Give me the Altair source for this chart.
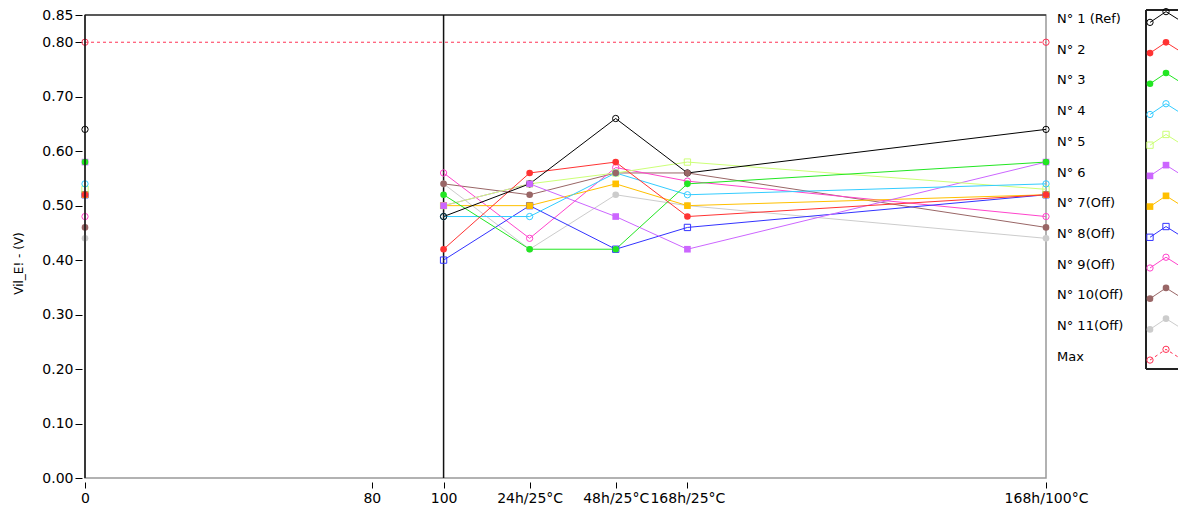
import altair as alt
import pandas as pd

# ---------------- data ----------------
x_points = [0, 100, 124, 148, 168, 268]
tick_values = [0, 80, 100, 124, 148, 168, 268]
tick_labels = ["0", "80", "100", "24h/25°C", "48h/25°C", "168h/25°C", "168h/100°C"]
y_ticks = [0.0, 0.1, 0.2, 0.3, 0.4, 0.5, 0.6, 0.7, 0.8, 0.85]

series_names = ["N° 1 (Ref)", "N° 2", "N° 3", "N° 4", "N° 5", "N° 6",
                "N° 7(Off)", "N° 8(Off)", "N° 9(Off)", "N° 10(Off)", "N° 11(Off)"]
n1 = [0.64, 0.48, 0.54, 0.66, 0.56, 0.64]
n2 = [0.52, 0.42, 0.56, 0.58, 0.48, 0.52]
n3 = [0.58, 0.52, 0.42, 0.42, 0.54, 0.58]
n4 = [0.54, 0.48, 0.48, 0.56, 0.52, 0.54]
n5 = [0.53, 0.50, 0.54, 0.56, 0.58, 0.53]
n6 = [0.58, 0.50, 0.54, 0.48, 0.42, 0.58]
n7 = [0.52, 0.50, 0.50, 0.54, 0.50, 0.52]
n8 = [0.52, 0.40, 0.50, 0.42, 0.46, 0.52]
n9 = [0.48, 0.56, 0.44, 0.57, 0.545, 0.48]
n10 = [0.46, 0.54, 0.52, 0.56, 0.56, 0.46]
n11 = [0.44, 0.54, 0.42, 0.52, 0.50, 0.44]
series_values = [n1, n2, n3, n4, n5, n6, n7, n8, n9, n10, n11]

max_name = "Max"
max_x = [0, 268]
max_value = [0.80, 0.80]
cursor_x = [100]

# ---------------- styles ----------------
colors = ["#000000", "#FF3333", "#22E622", "#33CCFF", "#CCFF77", "#CC66FF",
          "#FFC000", "#3333FF", "#FF44CC", "#996666", "#CCCCCC"]
max_color = "#FF3355"
shapes = ["circle", "circle", "circle", "circle", "square", "square",
          "square", "square", "circle", "circle", "circle"]
filled = [False, True, True, False, False, True, True, False, False, True, True]

W, H = 961, 463
FONT = "DejaVu Sans"

all_names = series_names + [max_name]
all_colors = colors + [max_color]
all_shapes = shapes + ["circle"]
all_filled = filled + [False]

# rows in reverse order so that N° 1 is drawn last (on top), as in the reference
rows = []
for name, vals, f in reversed(list(zip(series_names, series_values, filled))):
    for x, v in zip(x_points, vals):
        rows.append(dict(series=name, x=x, v=v, seg="start" if x == 0 else "run", filled=f))
main_df = pd.DataFrame(rows)
max_df = pd.DataFrame(dict(series=max_name, x=max_x, v=max_value, filled=False))
pts_df = pd.concat([max_df, main_df], ignore_index=True)
cursor_df = pd.DataFrame(dict(x=cursor_x))

color_enc = alt.Color("series:N", scale=alt.Scale(domain=all_names, range=all_colors), legend=None)
shape_enc = alt.Shape("series:N", scale=alt.Scale(domain=all_names, range=all_shapes), legend=None)

label_expr = " : ".join(f"datum.value == {v} ? '{l}'" for v, l in zip(tick_values, tick_labels)) + " : ''"

x_axis = alt.Axis(values=tick_values, labelExpr=label_expr, grid=False, domain=False,
                  tickSize=6, tickColor="#000", offset=4, labelFont=FONT, labelFontSize=14,
                  labelColor="#000", labelPadding=3, labelOverlap=False, labelFlush=False, title=None)
y_axis = alt.Axis(values=y_ticks, format=".2f", grid=False, domain=False, tickSize=7,
                  tickColor="#000", offset=3, labelFont=FONT, labelFontSize=14, labelColor="#000",
                  labelPadding=2, labelOverlap=False, labelFlush=False,
                  title="Vil_E! - (V)", titleFont=FONT, titleFontSize=12, titleFontWeight="normal",
                  titleColor="#000", titleX=-64, titleY=248, titleBaseline="middle", titleAngle=270)

xs = alt.Scale(domain=[0, 268], nice=False, zero=False)
ys = alt.Scale(domain=[0, 0.85], nice=False, zero=True)


def X(f="x:Q"):
    return alt.X(f, scale=xs, axis=x_axis)


def Y(f="v:Q"):
    return alt.Y(f, scale=ys, axis=y_axis)


cursor = alt.Chart(cursor_df).mark_rule(color="#111", strokeWidth=1.5).encode(x=X())
max_line = alt.Chart(max_df).mark_line(strokeWidth=1, strokeDash=[3, 3]).encode(
    x=X(), y=Y(), color=color_enc)
lines = alt.Chart(main_df).mark_line(strokeWidth=1).encode(
    x=X(), y=Y(), color=color_enc, detail="seg:N")
open_pts = alt.Chart(pts_df).transform_filter("!datum.filled").mark_point(
    filled=False, size=40, strokeWidth=1, opacity=1).encode(
    x=X(), y=Y(), color=color_enc, shape=shape_enc)
fill_pts = alt.Chart(pts_df).transform_filter("datum.filled").mark_point(
    filled=True, size=44, opacity=1).encode(
    x=X(), y=Y(), color=color_enc, shape=shape_enc)
top_border = alt.Chart(cursor_df).mark_rule(color="#000", strokeWidth=1).encode(
    x=alt.value(0), x2=alt.value(W), y=alt.value(0))
left_border = alt.Chart(cursor_df).mark_rule(color="#111", strokeWidth=1.5).encode(
    x=alt.value(0), y=alt.value(0), y2=alt.value(H))

main = alt.layer(cursor, max_line, lines, open_pts, fill_pts, top_border, left_border)

# ---------------- legend (drawn with its own scales) ----------------
row_px = 30.7
first_row = 4
ly_dom = [-first_row / row_px, (H - first_row) / row_px]
zig_dx = [104, 120, 137]
zig_dy = [0.11, -0.24, 0.11]
leg_rows, txt_rows = [], []
for i, (name, f) in enumerate(zip(all_names, all_filled)):
    txt_rows.append(dict(series=name, lx=W + 11, ly=i))
    for dx, dy in zip(zig_dx, zig_dy):
        leg_rows.append(dict(series=name, lx=W + dx, ly=i + dy, filled=f))
leg_df = pd.DataFrame(leg_rows)
txt_df = pd.DataFrame(txt_rows)

lxs = alt.Scale(domain=[0, W], nice=False, zero=False)
lys = alt.Scale(domain=ly_dom, nice=False, zero=False, reverse=True)
LX = alt.X("lx:Q", scale=lxs, axis=None)
LY = alt.Y("ly:Q", scale=lys, axis=None)

leg_text = alt.Chart(txt_df).mark_text(align="left", baseline="middle", font=FONT,
                                       fontSize=13, color="#000").encode(x=LX, y=LY, text="series:N")
leg_lines = alt.Chart(leg_df).transform_filter(f"datum.series != '{max_name}'").mark_line(
    strokeWidth=1).encode(x=LX, y=LY, color=color_enc, detail="series:N")
leg_max = alt.Chart(leg_df).transform_filter(f"datum.series == '{max_name}'").mark_line(
    strokeWidth=1, strokeDash=[3, 3]).encode(x=LX, y=LY, color=color_enc)
leg_open = alt.Chart(leg_df).transform_filter("!datum.filled").mark_point(
    filled=False, size=40, strokeWidth=1, opacity=1).encode(x=LX, y=LY, color=color_enc, shape=shape_enc)
leg_fill = alt.Chart(leg_df).transform_filter("datum.filled").mark_point(
    filled=True, size=44, opacity=1).encode(x=LX, y=LY, color=color_enc, shape=shape_enc)
leg_box = alt.Chart(txt_df).mark_rect(fillOpacity=0, stroke="#222", strokeWidth=1).encode(
    x=alt.value(W + 100), x2=alt.value(W + 200), y=alt.value(-5), y2=alt.value(354))

legend = alt.layer(leg_box, leg_lines, leg_max, leg_open, leg_fill, leg_text)

chart = alt.layer(main, legend).resolve_scale(x="independent", y="independent").properties(
    width=W, height=H,
    autosize=alt.AutoSizeParams(type="none"),
    padding={"left": 77, "top": 7, "right": 132, "bottom": 27},
    background="white",
).configure_view(stroke="#999999", strokeWidth=1.5)

chart.save("out.html", embed_options={"renderer": "svg", "actions": False})
